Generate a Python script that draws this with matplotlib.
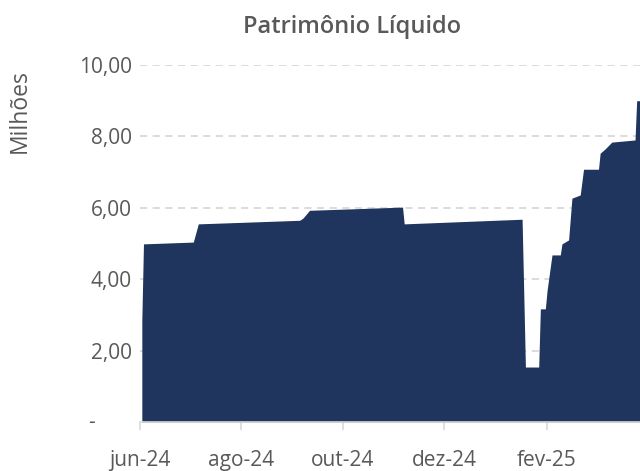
import pandas as pd
import matplotlib
matplotlib.use("Agg")
import matplotlib.pyplot as plt
import matplotlib.transforms as mtransforms

plt.rcParams['font.family'] = ['Open Sans', 'DejaVu Sans']

# Patrimônio líquido (R$ milhões), breakpoints
datas = ['2024-06-02', '2024-06-03', '2024-07-03', '2024-07-06', '2024-09-05',
         '2024-09-07', '2024-09-11', '2024-11-06', '2024-11-07', '2025-01-17',
         '2025-01-19', '2025-01-27', '2025-01-28', '2025-01-31', '2025-02-01',
         '2025-02-04', '2025-02-09', '2025-02-10', '2025-02-14', '2025-02-16',
         '2025-02-21', '2025-02-23', '2025-03-04', '2025-03-05', '2025-03-08',
         '2025-03-12', '2025-03-26', '2025-03-27', '2025-03-29']
valores = [2.85, 4.99, 5.04, 5.55, 5.65,
           5.71, 5.93, 6.02, 5.55, 5.68,
           1.54, 1.54, 3.17, 3.17, 3.67,
           4.68, 4.68, 4.99, 5.10, 6.27,
           6.36, 7.08, 7.08, 7.53, 7.65,
           7.84, 7.90, 9.00, 9.00]

xticks = ['2024-06-01', '2024-08-01', '2024-10-01', '2024-12-01', '2025-02-01']
xtick_labels = ['jun-24', 'ago-24', 'out-24', 'dez-24', 'fev-25']
yticks = [2, 4, 6, 8, 10]
ytick_labels = ['2,00', '4,00', '6,00', '8,00', '10,00']

df = pd.DataFrame({'data': pd.to_datetime(datas), 'pl': valores})

cor = '#1f355e'
cinza = '#595959'

fig = plt.figure(figsize=(6.4, 4.71), dpi=100)
ax = fig.add_axes([0.219, 0.104, 0.781, 0.758])

ax.fill_between(df['data'], 0, df['pl'], color=cor, linewidth=0)

ax.set_ylim(0, 10)
ax.set_xlim(pd.Timestamp('2024-06-01'), df['data'].iloc[-1])

ax.set_yticks(yticks)
ax.set_yticklabels(ytick_labels)
ax.set_xticks(pd.to_datetime(xticks))
ax.set_xticklabels(xtick_labels)

ax.grid(axis='y', color='#d9d9d9', linestyle=(0, (4, 3)), linewidth=1.3)
ax.set_axisbelow(True)

for s in ['top', 'right', 'left']:
    ax.spines[s].set_visible(False)
ax.spines['bottom'].set_color('#d9d9d9')
ax.spines['bottom'].set_linewidth(1.2)

ax.tick_params(axis='y', length=0, pad=6, labelsize=15, labelcolor=cinza)
ax.tick_params(axis='x', length=6, width=1.2, color='#d9d9d9', pad=14,
               labelsize=15, labelcolor=cinza)

# zero label shown as "-" (accounting format)
trans = mtransforms.blended_transform_factory(ax.transAxes, ax.transData)
ax.text(-0.097, 0, '-', transform=trans, ha='center', va='center',
        fontsize=15, color=cinza)

fig.text(0.55, 0.943, 'Patrimônio Líquido', ha='center', va='center',
         fontsize=17, fontweight='semibold', color=cinza)
fig.text(0.031, 0.765, 'Milhões', ha='center', va='center', rotation=90,
         fontsize=16.5, color=cinza)

fig.savefig('out.png', dpi=100)
